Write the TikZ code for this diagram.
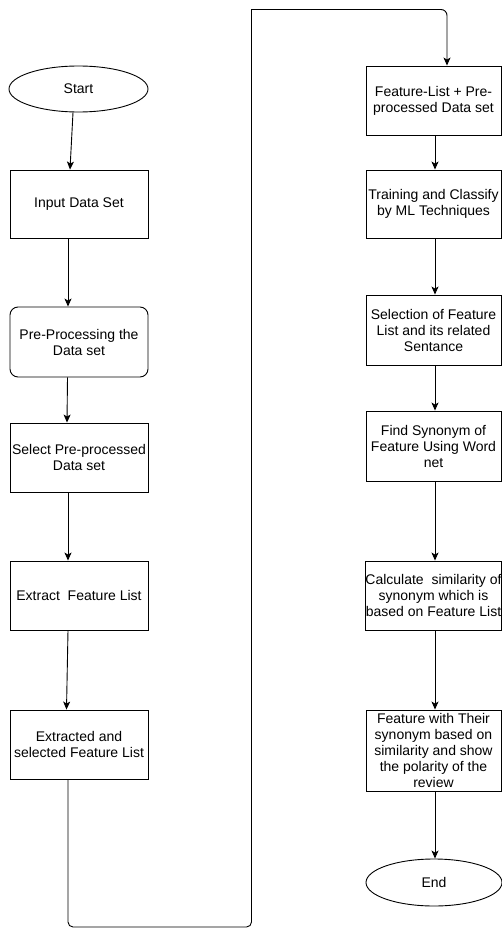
\documentclass[tikz,border=0pt]{standalone}
\usepackage{fontspec}
\setmainfont{Liberation Sans}
\usetikzlibrary{shapes.geometric,arrows.meta}
\begin{document}
\begin{tikzpicture}[x=1pt,y=-1pt,
  every node/.style={font=\fontsize{14}{16}\selectfont, text=black, align=center, inner sep=0pt},
  boxl/.style={draw, line width=0.9pt, minimum width=138pt},
  boxr/.style={draw, line width=0.9pt, minimum width=135pt},
  ovalnode/.style={draw, ellipse, line width=0.9pt},
  conn/.style={draw, line width=0.9pt, -{Stealth[length=8pt,width=7pt,inset=2pt]}},
  line/.style={draw, line width=0.9pt}]
\useasboundingbox (0,0) rectangle (502,928);
% left column
\node[ovalnode, minimum width=139pt, minimum height=46pt] (start) at (78.5,89) {Start};
\node[boxl, minimum height=68pt] (inp) at (79,204) {Input Data Set};
\node[boxl, minimum height=70pt, rounded corners=8pt] (pre) at (79,342) {Pre-Processing the\\Data set};
\node[boxl, minimum height=69pt] (sel) at (79,457.5) {Select Pre-processed\\Data set};
\node[boxl, minimum height=69pt] (ext) at (79,595.5) {Extract\ \ Feature List};
\node[boxl, minimum height=69pt] (exs) at (79,744.5) {Extracted and\\selected Feature List};
% right column
\node[boxr, minimum height=69pt] (b1) at (433.5,100.5) {Feature-List + Pre-\\processed Data set};
\node[boxr, minimum height=68pt] (b2) at (433.5,204) {Training and Classify\\by ML Techniques};
\node[boxr, minimum height=70pt] (b3) at (433.5,330) {Selection of Feature\\List and its related\\Sentance};
\node[boxr, minimum height=70pt] (b4) at (433.5,446) {Find Synonym of\\Feature Using Word\\net};
\node[boxr, minimum height=69pt] (b5) at (433.5,595.5) {Calculate\ \ similarity of\\synonym which is\\based on Feature List};
\node[boxr, minimum height=81pt] (b6) at (433.5,750.5) {Feature with Their\\synonym based on\\similarity and show\\the polarity of the\\review};
\node[ovalnode, minimum width=136pt, minimum height=47pt] (end) at (434,882.5) {End};
% left connectors
\draw[conn] ([xshift=-5.5pt]start.south) -- ([xshift=-9pt]inp.north);
\draw[conn] ([xshift=-11pt]inp.south) -- ([xshift=-11pt]pre.north);
\draw[conn] ([xshift=-11.5pt]pre.south) -- ([xshift=-12pt]sel.north);
\draw[conn] ([xshift=-11pt]sel.south) -- ([xshift=-11pt]ext.north);
\draw[conn] ([xshift=-11pt]ext.south) -- ([xshift=-12.5pt]exs.north);
% loop connector
\coordinate (lb) at (68,927);
\coordinate (rb) at (251.5,927);
\coordinate (rt) at (251.5,9.5);
\coordinate (tt) at (447,9.5);
\draw[conn] ([xshift=-11pt]exs.south) [rounded corners=5pt] -- (lb) -- (rb) [sharp corners] -- (rt) [rounded corners=6pt] -- (tt) -- ([xshift=13.5pt]b1.north);
% right connectors
\draw[conn] ([xshift=1.5pt]b1.south) -- ([xshift=1.5pt]b2.north);
\draw[conn] ([xshift=1.5pt]b2.south) -- ([xshift=1.5pt]b3.north);
\draw[conn] ([xshift=1.5pt]b3.south) -- ([xshift=1.5pt]b4.north);
\draw[conn] ([xshift=1.5pt]b4.south) -- ([xshift=1.5pt]b5.north);
\draw[conn] ([xshift=1.5pt]b5.south) -- ([xshift=1.5pt]b6.north);
\draw[conn] ([xshift=1.5pt]b6.south) -- ([xshift=1pt]end.north);
\end{tikzpicture}
\end{document}
